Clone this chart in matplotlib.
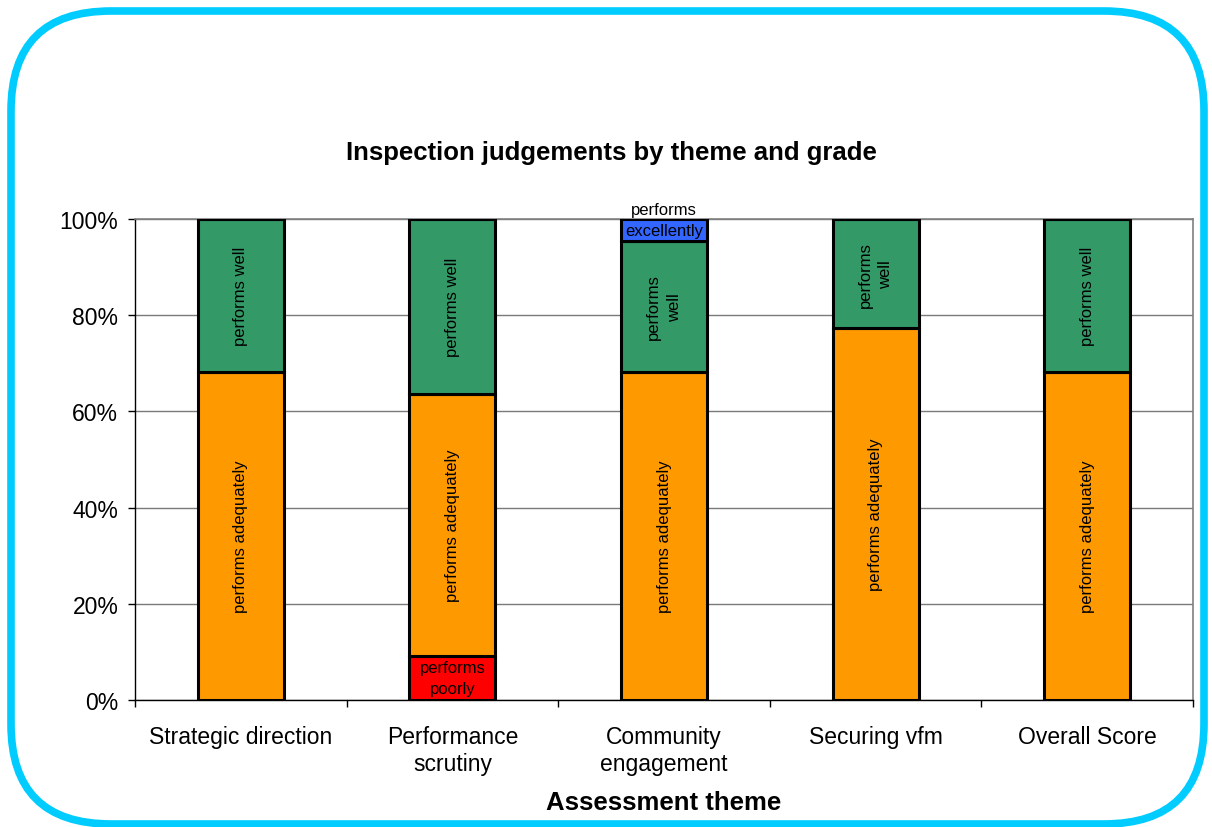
import numpy as np
import matplotlib.pyplot as plt
from matplotlib.patches import FancyBboxPatch
from matplotlib.transforms import IdentityTransform

plt.rcParams['font.family'] = ['Liberation Sans', 'DejaVu Sans']

# Datos (porcentaje de cada grado por tema)
themes = ['Strategic direction', 'Performance\nscrutiny', 'Community\nengagement',
          'Securing vfm', 'Overall Score']
poorly = [0.0, 9.1, 0.0, 0.0, 0.0]
adequately = [68.2, 54.5, 68.2, 77.3, 68.2]
well = [31.8, 36.4, 27.3, 22.7, 31.8]
excellently = [0.0, 0.0, 4.5, 0.0, 0.0]

# Etiquetas dentro de cada segmento (None = sin etiqueta)
lab_poorly = [None, 'performs\npoorly', None, None, None]
lab_adequately = ['performs adequately'] * 5
lab_well = ['performs well', 'performs well', 'performs\nwell', 'performs\nwell', 'performs well']
lab_excellently = [None, None, 'performs\nexcellently', None, None]

fig = plt.figure(figsize=(12.12, 8.28), dpi=100)
ax = fig.add_axes([135 / 1212, 1 - 701 / 828, (1193 - 135) / 1212, (701 - 220) / 828])

x = np.arange(len(themes))
w = 0.406
series = [
    (poorly, '#FF0000', lab_poorly, 0),
    (adequately, '#FF9900', lab_adequately, 90),
    (well, '#339966', lab_well, 90),
    (excellently, '#3366FF', lab_excellently, 0),
]

bottom = np.zeros(len(themes))
for vals, col, labs, rot in series:
    vals = np.array(vals)
    ax.bar(x, vals, w, bottom=bottom, color=col, edgecolor='black', linewidth=2.2, zorder=3)
    for i in range(len(x)):
        if vals[i] > 0 and labs[i]:
            mid = bottom[i] + vals[i] / 2
            dy = 7 if col == '#3366FF' else 0
            ax.annotate(labs[i], (x[i], mid), xytext=(0, dy), textcoords='offset points',
                        ha='center', va='center', rotation=rot, fontsize=12,
                        linespacing=1.45, zorder=4)
    bottom += vals

ax.set_xlim(-0.5, len(themes) - 0.5)
ax.set_ylim(0, 100)
ax.set_yticks(np.arange(0, 101, 20))
ax.set_yticklabels([f'{v}%' for v in range(0, 101, 20)])
ax.yaxis.grid(True, color='#7a7a7a', linewidth=1.0, zorder=0)
ax.set_axisbelow(True)

ax.set_xticks(x)
ax.set_xticklabels(themes, fontsize=16.5)
ax.set_xticks(np.arange(-0.5, len(themes)), minor=True)
ax.tick_params(axis='x', which='major', length=0, pad=18)
ax.tick_params(axis='x', which='minor', length=5, width=1, direction='out')
ax.tick_params(axis='y', length=5, width=1, labelsize=16.5, pad=7)

for s in ['top', 'right']:
    ax.spines[s].set_color('#808080')
    ax.spines[s].set_linewidth(1.2)
for s in ['left', 'bottom']:
    ax.spines[s].set_color('black')
    ax.spines[s].set_linewidth(1.0)

fig.text(611 / 1212, 1 - 153 / 828, 'Inspection judgements by theme and grade',
         ha='center', va='center', fontsize=18.5, fontweight='bold')
fig.text(664 / 1212, 1 - 803 / 828, 'Assessment theme',
         ha='center', va='center', fontsize=18.5, fontweight='bold')

# Marco redondeado celeste
frame = FancyBboxPatch((11, 828 - 825), 1204 - 11, 825 - 12,
                       boxstyle='round,pad=0,rounding_size=100',
                       transform=IdentityTransform(), facecolor='none',
                       edgecolor='#00CCFF', linewidth=5.5)
fig.add_artist(frame)

plt.savefig('out.png', dpi=100)
